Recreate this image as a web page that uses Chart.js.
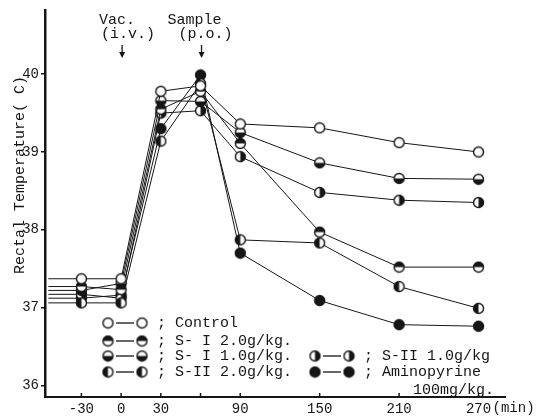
<!DOCTYPE html>
<html>
<head>
<meta charset="utf-8">
<script src="https://cdn.jsdelivr.net/npm/chart.js@4.4.1/dist/chart.umd.min.js"></script>
<style>
  body { margin: 0; background: #fff; }
  #wrap { width: 540px; height: 416px; }
</style>
</head>
<body>
<div id="wrap"><canvas id="tempChart" width="540" height="416"></canvas></div>
<script>
// time (min); first entry is the pre-value where the lines start at the axis
const times = [-55, -30, 0, 30, 60, 90, 150, 210, 270];
const xTicks = [-30, 0, 30, 60, 90, 150, 210, 270];
const yTicks = [36, 37, 38, 39, 40];

const control = [37.37, 37.37, 37.37, 39.78, 39.85, 39.36, 39.31, 39.12, 39.00];
const sI20    = [37.27, 37.27, 37.23, 39.55, 39.78, 39.11, 37.97, 37.52, 37.52];
const sI10    = [37.22, 37.22, 37.31, 39.66, 39.65, 39.25, 38.86, 38.66, 38.65];
const sII20   = [37.06, 37.06, 37.06, 39.14, 39.88, 37.87, 37.83, 37.27, 36.99];
const sII10   = [37.17, 37.17, 37.12, 39.50, 39.53, 38.94, 38.48, 38.38, 38.35];
const amino   = [37.12, 37.12, 37.16, 39.30, 39.99, 37.70, 37.09, 36.78, 36.76];

const FONT = '"Liberation Mono", "DejaVu Sans Mono", monospace';
const INK = '#161616';

function makeMarker(half) {
  const c = document.createElement('canvas');
  c.width = 13; c.height = 13;
  const g = c.getContext('2d');
  const cx = 6.5, cy = 6.5, r = 5;
  g.beginPath(); g.arc(cx, cy, r, 0, Math.PI * 2);
  g.fillStyle = '#fff'; g.fill();
  if (half !== 'none') {
    g.save();
    g.beginPath(); g.arc(cx, cy, r, 0, Math.PI * 2); g.clip();
    g.fillStyle = INK;
    if (half === 'full') g.fillRect(0, 0, 13, 13);
    if (half === 'top') g.fillRect(0, 0, 13, cy);
    if (half === 'bottom') g.fillRect(0, cy, 13, 13);
    if (half === 'left') g.fillRect(0, 0, cx, 13);
    if (half === 'right') g.fillRect(cx, 0, 13, 13);
    g.restore();
  }
  g.beginPath(); g.arc(cx, cy, r, 0, Math.PI * 2);
  g.lineWidth = 1.4; g.strokeStyle = INK; g.stroke();
  return c;
}

const mk = {
  control: makeMarker('none'),
  sI20: makeMarker('top'),
  sI10: makeMarker('bottom'),
  sII20: makeMarker('left'),
  sII10: makeMarker('right'),
  amino: makeMarker('full')
};

function series(label, vals, marker) {
  return {
    label: label,
    data: times.map((t, i) => ({ x: t, y: vals[i] })),
    borderColor: INK,
    borderWidth: 1,
    tension: 0,
    pointStyle: marker,
    pointRadius: ctx => ctx.dataIndex === 0 ? 0 : 5,
    pointHoverRadius: 5
  };
}

const legendRows = [
  { m: mk.control, x: 108, y: 323, text: '; Control' },
  { m: mk.sI20, x: 108, y: 341, text: '; S- I 2.0g/kg.' },
  { m: mk.sI10, x: 108, y: 356, text: '; S- I 1.0g/kg.' },
  { m: mk.sII20, x: 108, y: 372, text: '; S-II 2.0g/kg.' },
  { m: mk.sII10, x: 315, y: 356, text: '; S-II 1.0g/kg' },
  { m: mk.amino, x: 315, y: 372, text: '; Aminopyrine' }
];

const extras = {
  id: 'extras',
  afterDraw(chart) {
    const ctx = chart.ctx;
    const xs = chart.scales.x;
    const bottom = chart.chartArea.bottom;
    ctx.save();
    ctx.fillStyle = INK;
    ctx.strokeStyle = INK;

    // inward x tick marks
    ctx.lineWidth = 1.5;
    xTicks.forEach(v => {
      const px = xs.getPixelForValue(v);
      ctx.beginPath(); ctx.moveTo(px, bottom); ctx.lineTo(px, bottom - 4); ctx.stroke();
    });

    // "(min)" after the last tick label
    ctx.font = '14px ' + FONT;
    ctx.textBaseline = 'middle';
    ctx.textAlign = 'left';
    ctx.fillText('(min)', xs.getPixelForValue(270) + 14, 408);

    // y title
    ctx.save();
    ctx.translate(20, 175);
    ctx.rotate(-Math.PI / 2);
    ctx.font = '15px ' + FONT;
    ctx.textAlign = 'center';
    ctx.fillText('Rectal Temperature( C)', 0, 0);
    ctx.restore();

    // event labels + arrows
    ctx.font = '15px ' + FONT;
    ctx.textAlign = 'left';
    const notes = [
      { t: 0, l1: 'Vac.', d1: -23, l2: '(i.v.)', d2: -21 },
      { t: 60, l1: 'Sample', d1: -34, l2: '(p.o.)', d2: -23 }
    ];
    notes.forEach(n => {
      const px = xs.getPixelForValue(n.t) + 1;
      ctx.fillText(n.l1, px + n.d1, 20);
      ctx.fillText(n.l2, px + n.d2, 34);
      ctx.lineWidth = 1.3;
      ctx.beginPath(); ctx.moveTo(px, 45); ctx.lineTo(px, 54); ctx.stroke();
      ctx.beginPath(); ctx.moveTo(px - 3, 52); ctx.lineTo(px + 3, 52); ctx.lineTo(px, 58); ctx.closePath(); ctx.fill();
    });

    // legend
    ctx.font = '15px ' + FONT;
    legendRows.forEach(r => {
      ctx.lineWidth = 1.3;
      ctx.beginPath(); ctx.moveTo(r.x + 8, r.y); ctx.lineTo(r.x + 26, r.y); ctx.stroke();
      ctx.drawImage(r.m, r.x - 6.5, r.y - 6.5);
      ctx.drawImage(r.m, r.x + 34 - 6.5, r.y - 6.5);
      ctx.fillText(r.text, r.x + 49, r.y);
    });
    ctx.fillText('100mg/kg.', 413, 390);
    ctx.restore();
  }
};

new Chart(document.getElementById('tempChart'), {
  type: 'line',
  data: {
    datasets: [
      series('Control', control, mk.control),
      series('S- I 2.0g/kg.', sI20, mk.sI20),
      series('S- I 1.0g/kg.', sI10, mk.sI10),
      series('S-II 2.0g/kg.', sII20, mk.sII20),
      series('S-II 1.0g/kg', sII10, mk.sII10),
      series('Aminopyrine 100mg/kg.', amino, mk.amino)
    ]
  },
  options: {
    responsive: false,
    animation: false,
    layout: { padding: { top: 8, right: 35, left: 0, bottom: 0 } },
    plugins: { legend: { display: false }, tooltip: { enabled: false } },
    scales: {
      x: {
        type: 'linear',
        min: -57.5,
        max: 290,
        afterBuildTicks: s => { s.ticks = xTicks.map(v => ({ value: v })); },
        afterFit: s => { s.height = 19; },
        grid: { display: false, drawTicks: false },
        border: { color: INK, width: 2 },
        ticks: {
          padding: 4,
          maxRotation: 0,
          autoSkip: false,
          color: INK,
          font: { family: FONT, size: 14 },
          callback: v => v === 60 ? '' : String(v)
        }
      },
      y: {
        min: 35.85,
        max: 40.82,
        afterBuildTicks: s => { s.ticks = yTicks.map(v => ({ value: v })); },
        afterFit: s => { s.width = 45; },
        grid: { drawOnChartArea: false, drawTicks: true, tickLength: 4, color: INK, lineWidth: 1.5 },
        border: { color: INK, width: 2.5 },
        ticks: {
          padding: 2,
          color: INK,
          font: { family: FONT, size: 14 }
        }
      }
    }
  },
  plugins: [extras]
});
</script>
</body>
</html>
